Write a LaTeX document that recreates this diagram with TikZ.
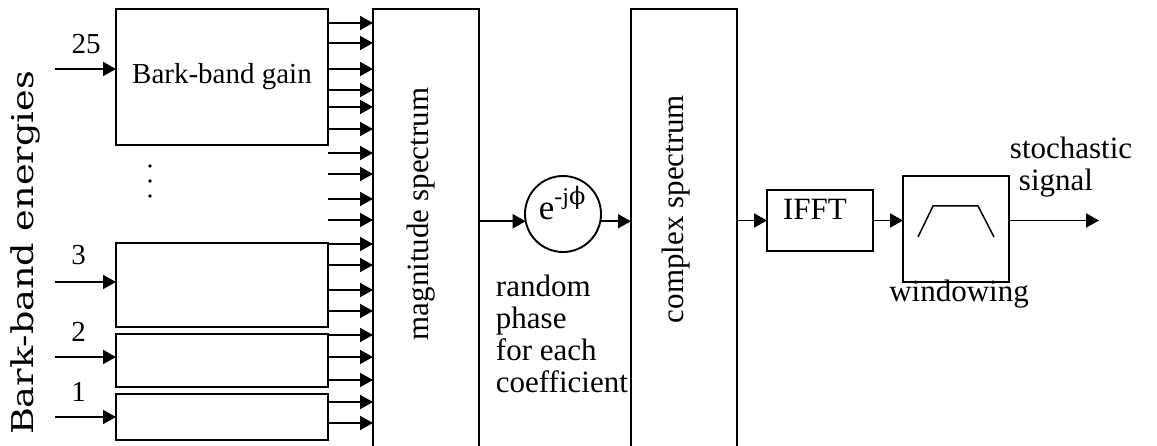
\documentclass[tikz,border=0pt]{standalone}
\usepackage{fontspec}
\setmainfont{Liberation Serif}
\newfontfamily\titlefont[FakeStretch=1.22]{DejaVu Serif}
\newfontfamily\greekfont{DejaVu Serif}
\usetikzlibrary{arrows.meta}

\begin{document}
\begin{tikzpicture}[x=1pt,y=-1pt,
  line width=1.9pt,
  arr/.style={-{Triangle[length=13pt,width=14pt]}},
  blk/.style={draw, rectangle, inner sep=0pt, outer sep=0pt},
  txt/.style={font=\fontsize{31}{32}\selectfont, inner sep=0pt},
  small/.style={font=\fontsize{29}{30}\selectfont, inner sep=0pt},
]
\useasboundingbox (0,0) rectangle (1157,446);
\clip (0,0) rectangle (1157,446);

% vertical title
\node[font=\titlefont\fontsize{30}{31}\selectfont, rotate=90, anchor=base, inner sep=0pt]
  (title) at (33,253) {Bark-band energies};

% per-band gain blocks
\node[blk, small, minimum width=212pt, minimum height=136pt] (g25) at (222,77) {Bark-band gain};
\node[blk, minimum width=212pt, minimum height=84pt] (g3) at (222,285) {};
\node[blk, minimum width=212pt, minimum height=53pt] (g2) at (222,360.5) {};
\node[blk, minimum width=212pt, minimum height=46pt] (g1) at (222,417) {};

% band numbers
\node[small, anchor=base] (n25) at (86,54) {25};
\node[small, anchor=base] (n3) at (78.5,265) {3};
\node[small, anchor=base] (n2) at (78.5,342) {2};
\node[small, anchor=base] (n1) at (78.5,402) {1};

% inputs
\coordinate (in25) at (55,69);
\coordinate (in3) at (55,282);
\coordinate (in2) at (55,357);
\coordinate (in1) at (55,417);
\draw[arr] (in25) -- (in25 -| g25.west);
\draw[arr] (in3) -- (in3 -| g3.west);
\draw[arr] (in2) -- (in2 -| g2.west);
\draw[arr] (in1) -- (in1 -| g1.west);

% ellipsis between the bands
\foreach \yy in {166,181,196} \fill (150,\yy) circle (1.8pt);

% spectrum blocks
\node[blk, minimum width=106pt, minimum height=460pt] (mag) at (426,239) {};
\node[txt, rotate=90, anchor=base] (magtext) at (428,214) {magnitude spectrum};
\node[blk, minimum width=106pt, minimum height=460pt] (comp) at (684,239) {};
\node[txt, rotate=90, anchor=base] (comptext) at (683,209) {complex spectrum};

% gain outputs into the magnitude spectrum
\foreach \yy in {23,43,69,90,107,129,153,174,199,220,244,265,290,311,335,357,380,402,423}
  \draw[arr] (g25.east |- 0,\yy) -- (mag.west |- 0,\yy);

% random phase
\node[draw, circle, minimum size=76pt, inner sep=0pt, outer sep=0pt] (ph) at (563,214) {};
\node[inner sep=0pt, anchor=base west] (phtext) at (538,220)
  {\fontsize{35}{36}\selectfont e\raisebox{15pt}{\fontsize{24}{25}\selectfont -j{\greekfont ϕ}}};
% the base anchor of this multi-line node sits on its last line
\node[txt, anchor=base west, align=left] (rp) at (495,392)
  {random\\phase\\for each\\coefficient};
\draw[arr] (ph.191 -| mag.east) -- (ph.191);
\draw[arr] (ph.349) -- (ph.349 -| comp.west);

% IFFT
\node[blk, minimum width=106pt, minimum height=61pt] (ifft) at (820,220.5) {};
\node[txt, anchor=base] (iffttext) at (815,220) {IFFT};
\draw[arr] (ifft.west -| comp.east) -- (ifft.west);

% windowing
\node[blk, minimum width=106pt, minimum height=106pt] (win) at (956,229) {};
\draw[line width=1.5pt] (918,237) -- (933,206) -- (978,206) -- (994,237);
\node[txt, anchor=base] (wintext) at (959,302) {windowing};
\draw[arr] (ifft.east) -- (ifft.east -| win.west);

% output
\coordinate (out) at (1099,220.5);
\draw[arr] (out -| win.east) -- (out);
\node[txt, anchor=base west] (st1) at (1009,159) {stochastic};
\node[txt, anchor=base west] (st2) at (1018,191) {signal};
\end{tikzpicture}
\end{document}
